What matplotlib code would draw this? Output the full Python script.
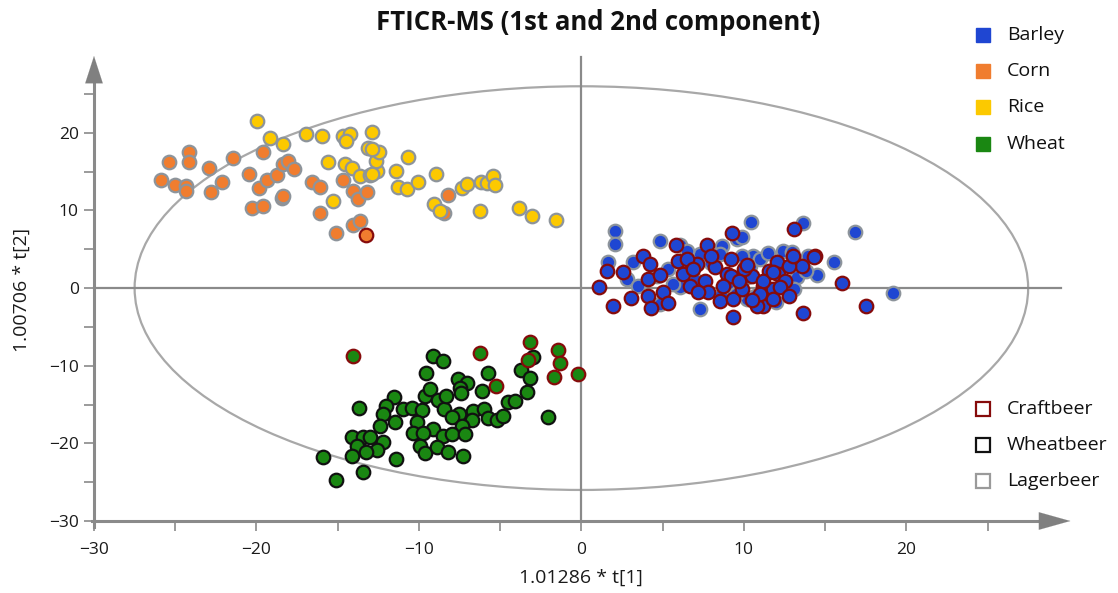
import matplotlib
matplotlib.use("Agg")
import matplotlib.pyplot as plt
from matplotlib.patches import Ellipse
from matplotlib.lines import Line2D

plt.rcParams['font.family'] = ['Open Sans', 'DejaVu Sans']

# ---------------- data ----------------
corn_lager_x = [-24.14, -25.37, -24.14, -25.86, -25.00, -24.32, -24.32, -22.91, -21.43, -22.78, -22.11,
                -19.58, -20.44, -19.83, -19.34, -18.72, -18.35, -18.04, -17.67, -18.41, -18.35, -20.26,
                -19.58, -16.57, -16.07, -16.07, -15.09, -14.66, -14.04, -13.73, -13.18, -14.04, -13.61,
                -8.19, -8.44]
corn_lager_y = [17.53, 16.24, 16.24, 13.92, 13.27, 13.14, 12.50, 15.46, 16.75, 12.37, 13.66,
                17.53, 14.69, 12.89, 13.92, 14.56, 15.98, 16.37, 15.34, 11.60, 11.86, 10.31,
                10.57, 13.66, 13.02, 9.67, 7.09, 13.92, 12.50, 11.47, 12.37, 8.12, 8.63,
                11.98, 9.67]
corn_craft_x = [-13.24]
corn_craft_y = [6.83]

rice_lager_x = [-19.95, -19.15, -18.35, -16.93, -15.95, -14.66, -14.22, -14.47, -12.87, -15.58, -14.53,
                -14.10, -13.61, -12.99, -12.56, -12.62, -12.44, -13.12, -15.27, -12.87, -12.87, -10.65,
                -11.39, -11.27, -10.71, -10.04, -8.93, -9.05, -8.68, -7.33, -7.02, -6.16, -5.79, -5.42,
                -5.30, -6.22, -3.82, -3.02, -1.54]
rice_lager_y = [21.52, 19.33, 18.56, 19.85, 19.59, 19.59, 19.85, 18.94, 20.10, 16.24, 15.98,
                15.46, 14.43, 14.56, 15.08, 16.37, 17.53, 18.04, 11.21, 17.91, 14.69, 16.88,
                15.08, 13.02, 12.76, 13.66, 14.69, 10.83, 9.92, 12.89, 13.40, 13.66, 13.53, 14.43,
                13.27, 9.92, 10.31, 9.28, 8.76]

barley_lager_x = [2.09, 2.09, 4.86, 6.10, 8.68, 9.61, 1.66, 2.83, 3.20, 3.51, 4.68, 5.36, 7.33, 8.56,
                  6.10, 4.86, 7.33, 8.99, 5.67, 10.47, 13.67, 16.87, 9.91, 12.44, 13.92, 12.99, 10.59,
                  13.30, 13.06, 14.53, 15.52, 19.21, 10.71, 10.41, 9.91, 10.22, 10.22,
                  7.0, 8.0, 11.0, 12.0, 9.5, 6.5, 11.5, 13.8, 8.6]
barley_lager_y = [7.35, 5.67, 6.06, 5.54, 5.41, 6.31, 3.35, 1.16, 3.35, 0.26, 1.55, 2.45, 4.38, 4.38,
                  0.13, -2.06, -2.71, 0.13, 0.52, 8.51, 8.38, 7.22, 6.57, 4.77, 4.12, 4.64, 4.12,
                  1.42, -0.13, 1.68, 3.35, -0.64, -1.03, 2.84, 4.12, -1.42, 1.42,
                  1.0, 3.2, 3.8, -1.8, -0.8, 4.8, 4.5, 2.2, -0.9]
barley_craft_x = [5.85, 7.76, 9.30, 1.60, 2.59, 3.82, 4.25, 4.13, 4.86, 5.97, 6.28, 7.14, 8.25, 9.18,
                  8.99, 7.64, 6.71, 1.11, 5.05, 4.13, 3.08, 1.97, 4.31, 5.36, 7.82, 8.56, 9.36, 9.36,
                  13.06, 14.41, 11.52, 12.07, 12.13, 13.61, 16.07, 17.49, 13.67, 11.21, 9.91, 10.53,
                  9.98, 11.21, 11.82, 12.56, 6.53, 6.90, 9.18, 8.74, 10.84, 11.82, 12.25, 11.21, 11.82,
                  14.29, 10.2, 11.0, 9.7, 12.8, 8.0, 10.5, 7.2, 12.8, 13.0]
barley_craft_y = [5.54, 5.54, 7.09, 2.19, 2.06, 4.12, 3.09, 1.16, 1.68, 3.48, 1.80, 3.09, 2.71, 3.74,
                  1.80, 0.90, 0.26, 0.13, -0.52, -1.03, -1.29, -2.32, -2.58, -1.93, -0.52, -1.68, -1.42,
                  -3.74, 7.60, 4.12, 2.19, 3.35, 1.80, 2.84, 0.64, -2.32, -3.22, -2.32, -0.13, 1.55,
                  2.45, 0.26, -0.13, 0.90, 3.74, 2.45, 1.55, 0.26, -2.32, -1.42, 0.13, 0.90, 2.06,
                  4.00, 3.0, -0.8, 0.9, 2.8, 4.2, -1.5, -0.5, -1.0, 4.2]

wheat_wheatbeer_x = [-9.11, -8.50, -9.54, -11.52, -12.01, -12.19, -11.45, -12.38, -13.67, -10.96, -10.41,
                     -9.79, -9.61, -9.30, -8.81, -8.44, -10.10, -9.11, -10.35, -9.73, -8.50, -9.91, -9.61,
                     -8.87, -8.19, -14.10, -13.42, -12.99, -12.19, -13.79, -12.56, -13.24, -14.10, -15.89,
                     -11.39, -13.42, -15.09, -2.96, -3.69, -3.14, -5.73, -3.33, -6.10, -7.57, -7.02, -7.45,
                     -7.39, -8.31, -4.50, -4.06, -7.51, -6.65, -5.97, -6.71, -5.73, -5.17, -4.80, -7.94,
                     -7.33, -7.94, -7.14, -2.03, -7.27]
wheat_wheatbeer_y = [-8.76, -9.41, -10.95, -14.05, -15.21, -16.24, -17.27, -17.78, -15.46, -15.59, -15.46,
                     -15.72, -13.92, -13.02, -14.43, -15.59, -17.27, -18.17, -18.69, -18.69, -19.07, -20.36,
                     -21.26, -20.49, -21.13, -19.20, -19.20, -19.20, -19.85, -20.36, -20.88, -21.13, -21.65,
                     -21.78, -22.04, -23.71, -24.74, -8.89, -10.57, -11.60, -10.95, -13.40, -13.27, -11.73,
                     -12.24, -12.89, -13.53, -13.92, -14.69, -14.56, -16.24, -15.85, -15.59, -17.01, -16.75,
                     -17.01, -16.50, -16.62, -17.78, -18.82, -18.82, -16.62, -21.65]
wheat_craft_x = [-14.04, -6.22, -3.14, -1.42, -1.29, -0.18, -1.66, -3.26, -5.23]
wheat_craft_y = [-8.76, -8.38, -6.96, -7.99, -9.67, -11.08, -11.47, -9.28, -12.63]

grain_labels = ['Barley', 'Corn', 'Rice', 'Wheat']
beer_labels = ['Craftbeer', 'Wheatbeer', 'Lagerbeer']
x_ticks = [-30, -20, -10, 0, 10, 20]
y_ticks = [-30, -20, -10, 0, 10, 20]

# ---------------- styles ----------------
C_BARLEY = '#1f46d2'
C_CORN = '#f07d2f'
C_RICE = '#fcc900'
C_WHEAT = '#1a8712'
E_CRAFT = '#860b0b'
E_WHEAT = '#111111'
E_LAGER = '#8d949b'
AXC = '#8a8a8a'

W, H = 1118, 593
fig = plt.figure(figsize=(W / 100, H / 100), dpi=100)
ax = fig.add_axes([94 / W, 1 - 521 / H, (1072 - 94) / W, (521 - 56) / H])
ax.set_xlim(-30, 30.2)
ax.set_ylim(-30, 29.9)
for s in ax.spines.values():
    s.set_visible(False)

# ellipse
ax.add_patch(Ellipse((0, 0), 55.0, 52.0, fill=False, edgecolor='#a8a8a8', lw=1.6, zorder=1))

# zero lines
ax.plot([-30, 29.5], [0, 0], color=AXC, lw=1.6, zorder=1.5, clip_on=False)
ax.plot([0, 0], [-30, 29.8], color=AXC, lw=1.6, zorder=1.5, clip_on=False)

# axes with arrows
ax.plot([-30, -30], [-30.8, 28], color=AXC, lw=2.2, zorder=2, clip_on=False)
ax.plot([-30.1, 28.5], [-30, -30], color=AXC, lw=2.2, zorder=2, clip_on=False)
ax.annotate('', xy=(30.1, -30), xytext=(28.0, -30), xycoords='data',
            arrowprops=dict(arrowstyle='-|>,head_length=1.5,head_width=0.42', color='#808080',
                            lw=0.1, mutation_scale=15, shrinkA=0, shrinkB=0), annotation_clip=False)
ax.annotate('', xy=(-30, 29.9), xytext=(-30, 26.5), xycoords='data',
            arrowprops=dict(arrowstyle='-|>,head_length=1.3,head_width=0.42', color='#808080',
                            lw=0.1, mutation_scale=15, shrinkA=0, shrinkB=0), annotation_clip=False)

ax.set_xticks(x_ticks)
ax.set_yticks(y_ticks)
ax.set_xticks([-25, -15, -5, 5, 15, 25], minor=True)
ax.set_yticks([-25, -15, -5, 5, 15, 25], minor=True)
ax.tick_params(which='both', direction='out', length=7, width=1.2, color=AXC,
               labelsize=12.5, labelcolor='#1a1a1a', pad=4)
ax.tick_params(which='minor', labelleft=False, labelbottom=False)
ax.tick_params(axis='x', which='major', pad=8)

# points
S = 95
LW = 1.6
ax.scatter(corn_lager_x, corn_lager_y, s=S, c=C_CORN, edgecolors=E_LAGER, linewidths=LW, zorder=3)
ax.scatter(rice_lager_x, rice_lager_y, s=S, c=C_RICE, edgecolors=E_LAGER, linewidths=LW, zorder=3)
ax.scatter(corn_craft_x, corn_craft_y, s=S, c=C_CORN, edgecolors=E_CRAFT, linewidths=LW, zorder=3)
ax.scatter(barley_lager_x, barley_lager_y, s=S, c=C_BARLEY, edgecolors=E_LAGER, linewidths=LW, zorder=3)
ax.scatter(barley_craft_x, barley_craft_y, s=S, c=C_BARLEY, edgecolors=E_CRAFT, linewidths=LW, zorder=3)
ax.scatter(wheat_wheatbeer_x, wheat_wheatbeer_y, s=S, c=C_WHEAT, edgecolors=E_WHEAT, linewidths=LW, zorder=3)
ax.scatter(wheat_craft_x, wheat_craft_y, s=S, c=C_WHEAT, edgecolors=E_CRAFT, linewidths=LW, zorder=3)

# texts
fig.text(598 / W, 1 - 22 / H, 'FTICR-MS (1st and 2nd component)', ha='center', va='center',
         fontsize=18.5, fontweight='bold', color='#111111')
fig.text(581 / W, 1 - 578 / H, '1.01286 * t[1]', ha='center', va='center', fontsize=14, color='#1a1a1a')
fig.text(22 / W, 1 - 290 / H, '1.00706 * t[2]', ha='center', va='center', rotation=90,
         fontsize=14, color='#1a1a1a')

# legends (manual)
grain_colors = [C_BARLEY, C_CORN, C_RICE, C_WHEAT]
for i, (lab, col) in enumerate(zip(grain_labels, grain_colors)):
    yy = 1 - (35 + i * 36.2) / H
    fig.add_artist(Line2D([983 / W], [yy], marker='s', markersize=9.5, markerfacecolor=col,
                          markeredgecolor=col, linestyle='', transform=fig.transFigure))
    fig.text(1007 / W, yy, lab, ha='left', va='center', fontsize=14, color='#111111')

beer_edges = [E_CRAFT, E_WHEAT, '#9a9a9a']
for i, (lab, col) in enumerate(zip(beer_labels, beer_edges)):
    yy = 1 - (409 + i * 36) / H
    fig.add_artist(Line2D([983 / W], [yy], marker='s', markersize=9.5, markerfacecolor='white',
                          markeredgecolor=col, markeredgewidth=1.6, linestyle='',
                          transform=fig.transFigure))
    fig.text(1007 / W, yy, lab, ha='left', va='center', fontsize=14, color='#111111')

fig.savefig('out.png', dpi=100)
